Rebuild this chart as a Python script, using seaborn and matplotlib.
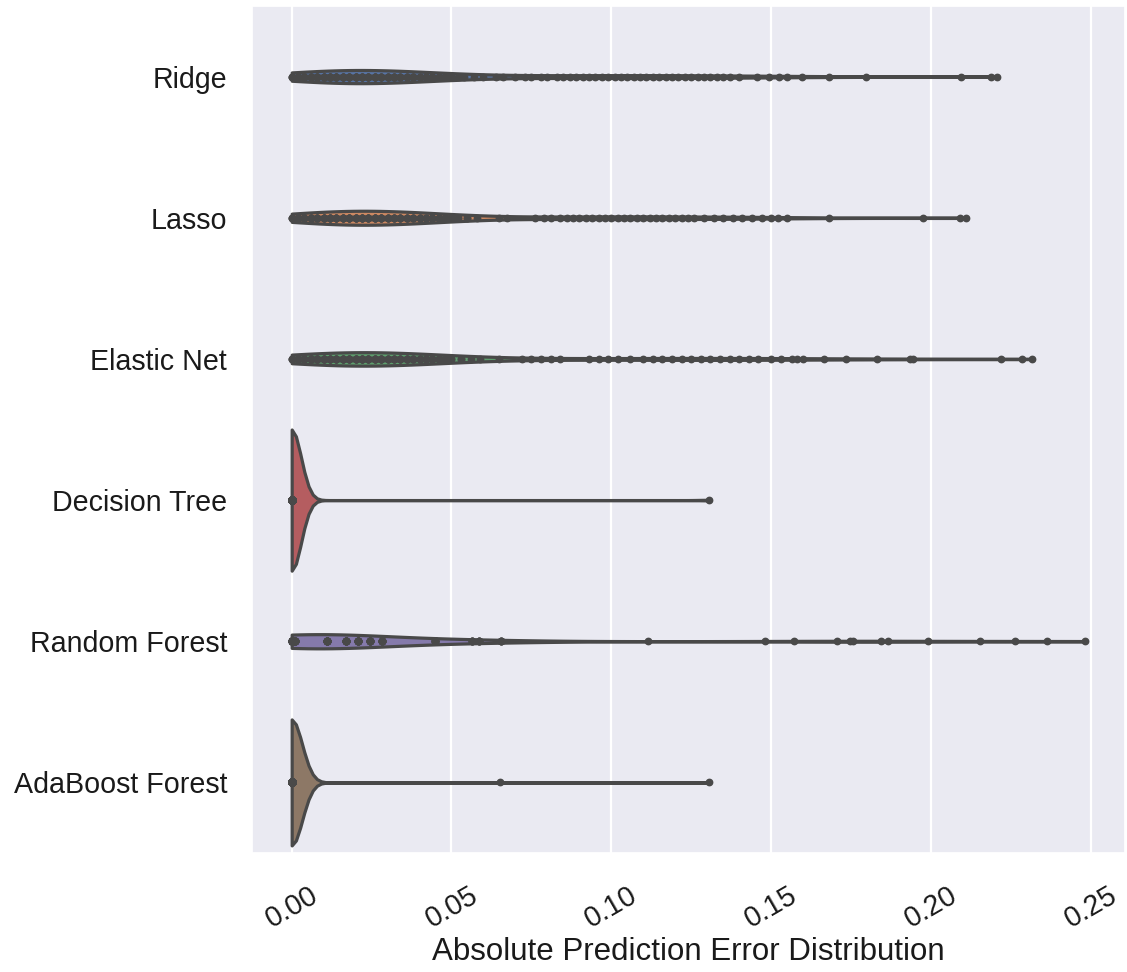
import numpy as np
import pandas as pd
import matplotlib
matplotlib.use("Agg")
import matplotlib.pyplot as plt
import seaborn as sns

models = ["Ridge", "Lasso", "Elastic Net", "Decision Tree", "Random Forest", "AdaBoost Forest"]

# Absolute prediction errors per model, stored as distinct error values and how often each occurs
ridge_values = [0.000, 0.002, 0.004, 0.006, 0.008, 0.010, 0.012, 0.014, 0.016, 0.018,
                0.020, 0.022, 0.024, 0.026, 0.028, 0.030, 0.032, 0.034, 0.036, 0.038,
                0.040, 0.042, 0.044, 0.046, 0.048, 0.050, 0.052, 0.054,
                0.057, 0.060, 0.064, 0.066, 0.070, 0.073, 0.075, 0.078, 0.080, 0.083,
                0.085, 0.087, 0.089, 0.091, 0.093, 0.095, 0.097, 0.099, 0.101, 0.103,
                0.105, 0.107, 0.109, 0.111, 0.113, 0.115, 0.117, 0.119, 0.121, 0.123,
                0.125, 0.127, 0.129, 0.131, 0.133, 0.135, 0.137, 0.140, 0.1455, 0.1492,
                0.1526, 0.1551, 0.1598, 0.1682, 0.1798, 0.2093, 0.2187, 0.2206]
ridge_counts = [3, 4, 5, 5, 6, 6, 6, 6, 6, 6,
                6, 6, 6, 6, 5, 5, 5, 4, 4, 4,
                3, 3, 3, 2, 2, 2, 1, 1,
                1, 1, 1, 1, 1, 1, 1, 1, 1, 1,
                1, 1, 1, 1, 1, 1, 1, 1, 1, 1,
                1, 1, 1, 1, 1, 1, 1, 1, 1, 1,
                1, 1, 1, 1, 1, 1, 1, 1, 1, 1,
                1, 1, 1, 1, 1, 1, 1, 1]

lasso_values = [0.000, 0.002, 0.004, 0.006, 0.008, 0.010, 0.012, 0.014, 0.016, 0.018,
                0.020, 0.022, 0.024, 0.026, 0.028, 0.030, 0.032, 0.034, 0.036, 0.038,
                0.040, 0.042, 0.044, 0.046, 0.048, 0.050, 0.052, 0.055, 0.058,
                0.065, 0.0675, 0.076, 0.079, 0.081, 0.084, 0.086, 0.088, 0.090, 0.092,
                0.094, 0.096, 0.098, 0.100, 0.102, 0.104, 0.106, 0.108, 0.110, 0.112,
                0.114, 0.116, 0.118, 0.120, 0.122, 0.124, 0.126, 0.129, 0.132, 0.135,
                0.138, 0.141, 0.144, 0.147, 0.150, 0.152, 0.155, 0.168, 0.1975, 0.209,
                0.211]
lasso_counts = [3, 4, 5, 5, 5, 6, 6, 6, 6, 6,
                6, 6, 6, 6, 6, 5, 5, 5, 5, 4,
                4, 3, 3, 3, 3, 2, 2, 2, 1,
                1, 1, 1, 1, 1, 1, 1, 1, 1, 1,
                1, 1, 1, 1, 1, 1, 1, 1, 1, 1,
                1, 1, 1, 1, 1, 1, 1, 1, 1, 1,
                1, 1, 1, 1, 1, 1, 1, 1, 1, 1,
                1]

enet_values = [0.000, 0.002, 0.004, 0.006, 0.008, 0.010, 0.012, 0.014, 0.016, 0.018,
               0.020, 0.022, 0.024, 0.026, 0.028, 0.030, 0.032, 0.034, 0.036, 0.038,
               0.040, 0.042, 0.044, 0.046, 0.048, 0.050, 0.053, 0.056, 0.059,
               0.065, 0.072, 0.075, 0.078, 0.081, 0.084, 0.093, 0.096, 0.099, 0.102,
               0.106, 0.110, 0.113, 0.116, 0.119, 0.122, 0.125, 0.128, 0.131, 0.134,
               0.137, 0.140, 0.143, 0.146, 0.150, 0.153, 0.1565, 0.158, 0.160, 0.1665,
               0.1735, 0.183, 0.1935, 0.1945, 0.222, 0.2285, 0.2315]
enet_counts = [3, 5, 5, 6, 6, 6, 6, 6, 6, 6,
               6, 6, 6, 6, 6, 5, 5, 5, 5, 4,
               4, 4, 3, 3, 3, 2, 2, 1, 1,
               1, 1, 1, 1, 1, 1, 1, 1, 1, 1,
               1, 1, 1, 1, 1, 1, 1, 1, 1, 1,
               1, 1, 1, 1, 1, 1, 1, 1, 1, 1,
               1, 1, 1, 1, 1, 1, 1]

tree_values = [0.0, 0.1305]
tree_counts = [227, 1]

forest_values = [0.0, 0.0009, 0.0112, 0.0171, 0.0206, 0.0246, 0.0283, 0.0449, 0.0563,
                 0.0586, 0.0654, 0.1115, 0.148, 0.1573, 0.1707, 0.1748, 0.1757, 0.1844,
                 0.1866, 0.1991, 0.2153, 0.2262, 0.2364, 0.2483]
forest_counts = [50, 10, 12, 10, 10, 8, 8, 6, 4,
                 4, 4, 1, 1, 1, 1, 1, 1, 1,
                 1, 1, 1, 1, 1, 1]

ada_values = [0.0, 0.0651, 0.1305]
ada_counts = [226, 1, 1]

series = [(ridge_values, ridge_counts), (lasso_values, lasso_counts),
          (enet_values, enet_counts), (tree_values, tree_counts),
          (forest_values, forest_counts), (ada_values, ada_counts)]

frames = []
for name, (vals, cnts) in zip(models, series):
    frames.append(pd.DataFrame({"model": name, "error": np.repeat(vals, cnts)}))
df = pd.concat(frames, ignore_index=True)

sns.set_theme(style="darkgrid")
plt.rcParams["font.family"] = ["Liberation Sans", "DejaVu Sans"]
plt.rcParams["grid.linewidth"] = 1.6

fig = plt.figure(figsize=(11.27, 9.72), dpi=100)
ax = fig.add_axes([252 / 1127, 119 / 972, 873 / 1127, 847 / 972])

sns.violinplot(data=df, x="error", y="model", hue="model", order=models,
               hue_order=models, palette="deep", orient="h", inner="point",
               cut=0, width=1.0, linewidth=2.3, density_norm="area",
               common_norm=True, legend=False, ax=ax)

ax.set_ylabel("")
ax.set_xlabel("Absolute Prediction Error Distribution", fontsize=22.5,
              color="#1a1a1a", labelpad=3)
ax.tick_params(axis="y", labelsize=20.6, pad=18, length=0, labelcolor="#1a1a1a")
ax.tick_params(axis="x", labelsize=20.6, pad=20, length=0, labelrotation=30,
               labelcolor="#1a1a1a")

fig.savefig("out.png", dpi=100)
